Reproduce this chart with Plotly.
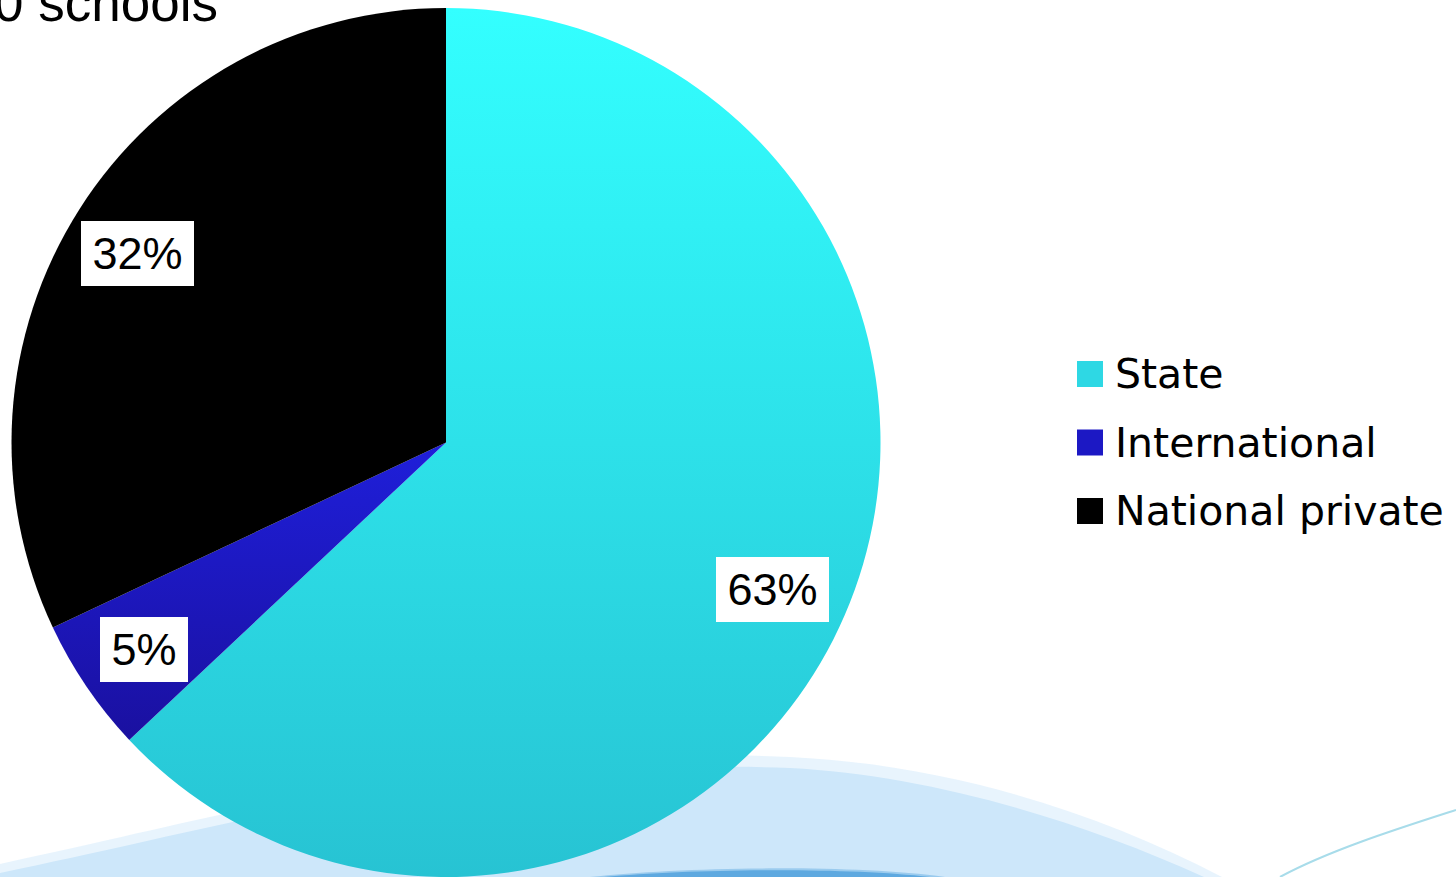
import json

import numpy as np
import plotly.graph_objects as go

W, H = 1456, 877

# ---- data ----
categories = ["State", "International", "National private"]
shares = [63, 5, 32]
slice_colors = ["#2ED8E4", "#1C18C4", "#000000"]
# vertical shading (top, bottom) applied to the slices after render
slice_shading = [["#33FFFF", "#27C3D3"], ["#1F1FDA", "#1A10A0"], None]
title_text = "0 schools"

# ---- geometry helpers (pixel -> paper) ----
def fx(x):
    return x / W


def fy(y):
    return 1 - y / H


def svg_path(segments, close=True):
    out = []
    for cmd, pts in segments:
        coords = " ".join(f"{fx(x):.5f},{fy(y):.5f}" for x, y in pts)
        out.append(f"{cmd} {coords}")
    return " ".join(out) + (" Z" if close else "")


# approximate Arial advance widths (em) for sizing the label boxes
ARIAL_EM = {**{d: 0.556 for d in "0123456789"}, "%": 0.889}


def text_width(s, size):
    return sum(ARIAL_EM.get(ch, 0.6) for ch in s) * size


PIE_L, PIE_R, PIE_T, PIE_B = 10, 882, 8, 877
pie_cx = (PIE_L + PIE_R) / 2
pie_cy = (PIE_T + PIE_B) / 2
pie_r = min(PIE_R - PIE_L, PIE_B - PIE_T) / 2
LABEL_RADIUS = 0.83
LABEL_NUDGE = (-4, 4)  # px offset applied to every label box
LABEL_SIZE = 45

fig = go.Figure()

fig.add_trace(
    go.Pie(
        labels=categories,
        values=shares,
        sort=False,
        direction="clockwise",
        rotation=0,
        marker=dict(colors=slice_colors, line=dict(width=0)),
        textinfo="none",
        hoverinfo="label+percent",
        showlegend=False,
        domain=dict(x=[fx(PIE_L), fx(PIE_R)], y=[fy(PIE_B), fy(PIE_T)]),
    )
)

annotations = []

# percentage labels in white boxes, placed at each slice's mid-angle
total = float(sum(shares))
cum = 0.0
for v in shares:
    mid = (cum + v / 2) / total * 2 * np.pi
    cum += v
    lx = pie_cx + LABEL_RADIUS * pie_r * np.sin(mid) + LABEL_NUDGE[0]
    ly = pie_cy - LABEL_RADIUS * pie_r * np.cos(mid) + LABEL_NUDGE[1]
    label = f"{v}%"
    annotations.append(
        dict(
            x=fx(lx), y=fy(ly), xref="paper", yref="paper",
            text=label, showarrow=False,
            xanchor="center", yanchor="middle",
            width=round(text_width(label, LABEL_SIZE) + 9), height=51,
            align="center", valign="middle",
            font=dict(family="Arial, Liberation Sans, sans-serif", size=LABEL_SIZE, color="#000000"),
            bgcolor="#FFFFFF", borderpad=7, borderwidth=0,
        )
    )

# legend: colour squares + names
LEG_Y0, LEG_DY = 374, 68.5
LEG_SQ_X, LEG_SQ = 1077, 26
LEG_TX = 1114
shapes = []
for i, (name, col) in enumerate(zip(categories, slice_colors)):
    yc = LEG_Y0 + i * LEG_DY
    shapes.append(
        dict(
            type="rect", xref="paper", yref="paper",
            x0=fx(LEG_SQ_X), x1=fx(LEG_SQ_X + LEG_SQ),
            y0=fy(yc + LEG_SQ / 2), y1=fy(yc - LEG_SQ / 2),
            fillcolor=col, line=dict(width=0), layer="above",
        )
    )
    annotations.append(
        dict(
            x=fx(LEG_TX), y=fy(yc), xref="paper", yref="paper",
            text=name, showarrow=False, xanchor="left", yanchor="middle",
            font=dict(family="DejaVu Sans, sans-serif", size=41, color="#000000"),
            borderpad=0,
        )
    )

# heading, running off the top-left corner
annotations.append(
    dict(
        x=fx(219), y=fy(3), xref="paper", yref="paper",
        text=title_text, showarrow=False, xanchor="right", yanchor="middle",
        font=dict(family="Arial, Liberation Sans, sans-serif", size=53, color="#000000"),
        borderpad=0,
    )
)

# background swoosh along the bottom edge (soft halo + body)
swoosh_halo = [
    ("M", [(0, 877)]),
    ("L", [(0, 864)]),
    ("C", [(120, 838), (200, 818), (300, 798)]),
    ("C", [(450, 770), (650, 750), (790, 757)]),
    ("C", [(940, 764), (1090, 808), (1222, 877)]),
]
swoosh_body = [
    ("M", [(0, 877)]),
    ("L", [(0, 873)]),
    ("C", [(120, 848), (200, 828), (300, 808)]),
    ("C", [(450, 780), (650, 762), (790, 768)]),
    ("C", [(925, 775), (1075, 818), (1204, 877)]),
]
shapes += [
    dict(
        type="path", xref="paper", yref="paper", layer="below",
        path=svg_path(swoosh_halo), fillcolor="rgba(205,231,250,0.45)", line=dict(width=0),
    ),
    dict(
        type="path", xref="paper", yref="paper", layer="below",
        path=svg_path(swoosh_body), fillcolor="#CDE7FA", line=dict(width=0),
    ),
    dict(
        type="path", xref="paper", yref="paper", layer="below",
        path=svg_path([
            ("M", [(590, 877)]),
            ("C", [(680, 867), (850, 864), (945, 877)]),
        ]),
        fillcolor="rgba(94,169,224,0.45)", line=dict(width=0),
    ),
    dict(
        type="path", xref="paper", yref="paper", layer="below",
        path=svg_path([
            ("M", [(604, 877)]),
            ("C", [(690, 869), (845, 867), (930, 877)]),
        ]),
        fillcolor="#5EA9E0", line=dict(width=0),
    ),
    dict(
        type="path", xref="paper", yref="paper", layer="below",
        path=svg_path([
            ("M", [(1456, 810)]),
            ("C", [(1400, 828), (1330, 850), (1280, 877)]),
        ], close=False),
        line=dict(color="#A8DCEA", width=2),
    ),
]

fig.update_layout(
    width=W, height=H,
    margin=dict(l=0, r=0, t=0, b=0),
    paper_bgcolor="#FFFFFF",
    plot_bgcolor="#FFFFFF",
    showlegend=False,
    shapes=shapes,
    annotations=annotations,
)

# vertical colour shading on the slices (SVG linear gradients)
shade_js = """
(function(){
  var gd = document.getElementById('{plot_id}');
  var SHADES = %s;
  function paint(){
    var svg = gd.querySelector('svg.main-svg');
    if(!svg) return;
    var defs = svg.querySelector('defs');
    var ns = 'http://www.w3.org/2000/svg';
    SHADES.forEach(function(s, i){
      if(!s) return;
      var id = 'sliceshade' + i;
      if(svg.querySelector('#' + id)) return;
      var lg = document.createElementNS(ns, 'linearGradient');
      lg.setAttribute('id', id);
      lg.setAttribute('x1', '0'); lg.setAttribute('y1', '0');
      lg.setAttribute('x2', '0'); lg.setAttribute('y2', '1');
      [[0, s[0]], [1, s[1]]].forEach(function(st){
        var stop = document.createElementNS(ns, 'stop');
        stop.setAttribute('offset', st[0]);
        stop.setAttribute('stop-color', st[1]);
        lg.appendChild(stop);
      });
      defs.appendChild(lg);
    });
    var paths = gd.querySelectorAll('g.slice path.surface');
    paths.forEach(function(p, i){
      if(SHADES[i]) p.style.fill = 'url(#sliceshade' + i + ')';
    });
  }
  paint();
  if(gd.on) gd.on('plotly_afterplot', paint);
})();
""" % json.dumps(slice_shading)

fig.write_html("out.html", post_script=shade_js, config={"displayModeBar": False})
